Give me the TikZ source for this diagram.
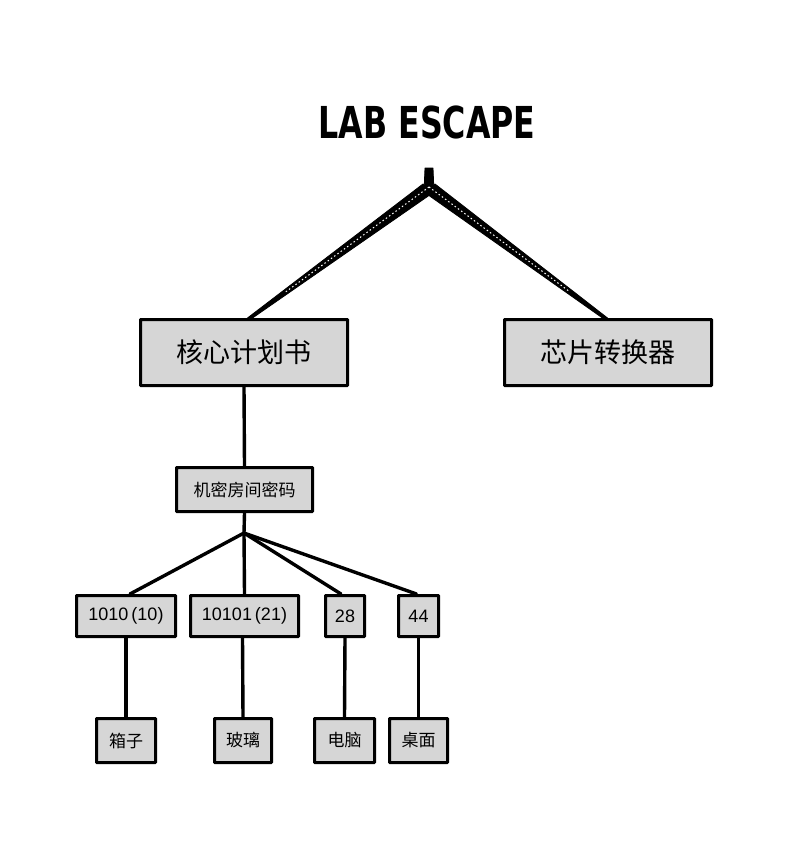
\documentclass[tikz,border=0pt]{standalone}
\usepackage{fontspec}
\usetikzlibrary{calc}
\setmainfont{Noto Sans CJK SC}
\newfontfamily\titlefont{DejaVu Sans}[FakeStretch=0.72]
\newfontfamily\numfont{Liberation Sans}
\definecolor{boxgray}{HTML}{D6D6D6}
\tikzset{
  box/.style={draw=black, fill=boxgray, line width=3pt, inner sep=0pt, rounded corners=0.5pt},
  conn/.style={draw=black, line width=3.4pt, line cap=round},
  branch/.style={fill=black, draw=black, line width=0.8pt, line join=round},
  tex/.style={draw=white, line width=1pt, dash pattern=on 1.5pt off 2.5pt}
}
\begin{document}
\begin{tikzpicture}[x=1pt,y=-1pt]
\useasboundingbox (0,0) rectangle (790,841);
\fill[white] (0,0) rectangle (790,841);
% title
\node (title) at (427,122) {\titlefont\bfseries\fontsize{44}{48}\selectfont LAB ESCAPE};
% top-level boxes
\node[box, minimum width=207pt, minimum height=66pt, font=\fontsize{27}{30}\selectfont] (plan) at (244,352.5) {核心计划书};
\node[box, minimum width=207pt, minimum height=66pt, font=\fontsize{27}{30}\selectfont] (chip) at (608,352.5) {芯片转换器};
% branch
\coordinate (apex) at (429,187);
\coordinate (ltip) at (250,318);
\coordinate (rtip) at (605,318);
\fill[branch] (425,168) -- (433,168) -- (434,192) -- (424,192) -- cycle;
\fill[branch] ([shift={(-6,-3)}]apex) -- ([shift={(5,5)}]apex) -- ([shift={(2.5,0)}]ltip) -- ([shift={(-2.5,0)}]ltip) -- cycle;
\fill[branch] ([shift={(6,-3)}]apex) -- ([shift={(-5,5)}]apex) -- ([shift={(-2.5,0)}]rtip) -- ([shift={(2.5,0)}]rtip) -- cycle;
\draw[tex] (apex) -- ($(apex)!0.8!(ltip)$);
\draw[tex] (apex) -- ($(apex)!0.8!(rtip)$);
% middle box
\node[box, minimum width=136pt, minimum height=44pt, font=\fontsize{17}{20}\selectfont] (room) at (244.5,489.5) {机密房间密码};
\draw[conn] (plan.south) -- (room.north);
\coordinate (junc) at (244,533);
\draw[conn] (room.south) -- (junc);
% number boxes
\node[box, minimum width=99pt, minimum height=41pt, font=\numfont\fontsize{18}{20}\selectfont] (n1) at (126,616) {1010\,(10)};
\node[box, minimum width=108pt, minimum height=41pt, font=\numfont\fontsize{18}{20}\selectfont] (n2) at (244.5,616) {10101\,(21)};
\node[box, minimum width=39pt, minimum height=41pt, font=\numfont\fontsize{18}{20}\selectfont] (n3) at (345,616) {28};
\node[box, minimum width=40pt, minimum height=41pt, font=\numfont\fontsize{18}{20}\selectfont] (n4) at (418.5,616) {44};
\draw[conn] (junc) -- ([xshift=4pt]n1.north);
\draw[conn] (junc) -- (n2.north);
\draw[conn] (junc) -- ([xshift=-4pt]n3.north);
\draw[conn] (junc) -- ([xshift=-2pt]n4.north);
% bottom boxes
\node[box, minimum width=59pt, minimum height=44pt, font=\fontsize{17}{20}\selectfont] (d1) at (126,740.5) {箱子};
\node[box, minimum width=57pt, minimum height=44pt, font=\fontsize{17}{20}\selectfont] (d2) at (243,740.5) {玻璃};
\node[box, minimum width=60pt, minimum height=44pt, font=\fontsize{17}{20}\selectfont] (d3) at (344.5,740.5) {电脑};
\node[box, minimum width=58pt, minimum height=44pt, font=\fontsize{17}{20}\selectfont] (d4) at (418.5,740.5) {桌面};
\draw[conn] (n1.south) -- (d1.north);
\draw[conn] ([xshift=-2pt]n2.south) -- (d2.north);
\draw[conn] (n3.south) -- (d3.north);
\draw[conn] (n4.south) -- (d4.north);
\end{tikzpicture}
\end{document}
